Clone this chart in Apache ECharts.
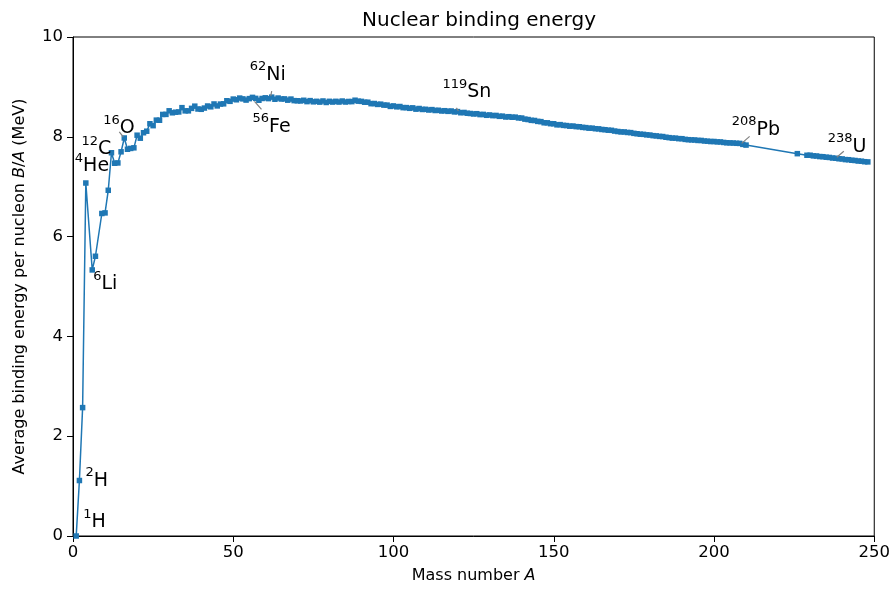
<!DOCTYPE html>
<html>
<head>
<meta charset="utf-8">
<script src="https://cdn.jsdelivr.net/npm/echarts@6/dist/echarts.min.js"></script>
<style>
html, body { margin: 0; padding: 0; background: #fff; }
#chart { width: 893px; height: 590px; }
</style>
</head>
<body>
<div id="chart"></div>
<script>
// mass number A of the plotted nuclides
var massNumber = [
    1, 2, 3, 4, 6, 7, 9, 10,
    11, 12, 13, 14, 15, 16, 17, 18, 19, 20,
    21, 22, 23, 24, 25, 26, 27, 28, 29, 30,
    31, 32, 33, 34, 35, 36, 37, 38, 39, 40,
    41, 42, 43, 44, 45, 46, 47, 48, 49, 50,
    51, 52, 53, 54, 55, 56, 57, 58, 59, 60,
    61, 62, 63, 64, 65, 66, 67, 68, 69, 70,
    71, 72, 73, 74, 75, 76, 77, 78, 79, 80,
    81, 82, 83, 84, 85, 86, 87, 88, 89, 90,
    91, 92, 93, 94, 95, 96, 97, 98, 99, 100,
    101, 102, 103, 104, 105, 106, 107, 108, 109, 110,
    111, 112, 113, 114, 115, 116, 117, 118, 119, 120,
    121, 122, 123, 124, 125, 126, 127, 128, 129, 130,
    131, 132, 133, 134, 135, 136, 137, 138, 139, 140,
    141, 142, 143, 144, 145, 146, 147, 148, 149, 150,
    151, 152, 153, 154, 155, 156, 157, 158, 159, 160,
    161, 162, 163, 164, 165, 166, 167, 168, 169, 170,
    171, 172, 173, 174, 175, 176, 177, 178, 179, 180,
    181, 182, 183, 184, 185, 186, 187, 188, 189, 190,
    191, 192, 193, 194, 195, 196, 197, 198, 199, 200,
    201, 202, 203, 204, 205, 206, 207, 208, 209, 210,
    226,
    229, 230, 231, 232, 233, 234, 235, 236, 237, 238,
    239, 240, 241, 242, 243, 244, 245, 246, 247, 248
];

// average binding energy per nucleon B/A (MeV), same order as massNumber
var bindingEnergy = [
    0.000, 1.112, 2.573, 7.074, 5.332, 5.606, 6.463, 6.475,
    6.928, 7.680, 7.470, 7.476, 7.699, 7.976, 7.751, 7.767, 7.779, 8.032,
    7.972, 8.081, 8.112, 8.261, 8.223, 8.334, 8.332, 8.448, 8.449, 8.521,
    8.481, 8.493, 8.498, 8.584, 8.520, 8.520, 8.570, 8.614, 8.557, 8.551,
    8.576, 8.617, 8.601, 8.658, 8.619, 8.656, 8.661, 8.723, 8.711, 8.756,
    8.742, 8.776, 8.760, 8.736, 8.765, 8.790, 8.770, 8.732, 8.768, 8.781,
    8.765, 8.795, 8.752, 8.777, 8.757, 8.760, 8.734, 8.756, 8.725, 8.722,
    8.718, 8.732, 8.705, 8.725, 8.701, 8.711, 8.695, 8.718, 8.688, 8.711,
    8.696, 8.711, 8.696, 8.717, 8.697, 8.708, 8.705, 8.733, 8.714, 8.710,
    8.693, 8.693, 8.664, 8.667, 8.649, 8.654, 8.635, 8.635, 8.609, 8.619,
    8.601, 8.607, 8.584, 8.585, 8.571, 8.580, 8.554, 8.567, 8.548, 8.551,
    8.537, 8.545, 8.527, 8.532, 8.517, 8.523, 8.510, 8.517, 8.499, 8.505,
    8.482, 8.488, 8.472, 8.467, 8.458, 8.463, 8.445, 8.449, 8.431, 8.438,
    8.424, 8.428, 8.410, 8.414, 8.397, 8.403, 8.392, 8.394, 8.378, 8.376,
    8.354, 8.346, 8.330, 8.327, 8.309, 8.304, 8.281, 8.280, 8.263, 8.262,
    8.240, 8.244, 8.229, 8.225, 8.213, 8.215, 8.204, 8.202, 8.189, 8.184,
    8.173, 8.173, 8.162, 8.159, 8.147, 8.142, 8.132, 8.130, 8.115, 8.106,
    8.098, 8.097, 8.087, 8.084, 8.069, 8.061, 8.052, 8.049, 8.039, 8.035,
    8.023, 8.018, 8.008, 8.005, 7.991, 7.983, 7.974, 7.973, 7.963, 7.962,
    7.948, 7.942, 7.938, 7.936, 7.927, 7.927, 7.916, 7.912, 7.905, 7.906,
    7.898, 7.897, 7.887, 7.880, 7.878, 7.875, 7.870, 7.868, 7.848, 7.834,
    7.662,
    7.630, 7.631, 7.618, 7.615, 7.604, 7.601, 7.591, 7.586, 7.575, 7.570,
    7.560, 7.556, 7.543, 7.541, 7.530, 7.525, 7.515, 7.511, 7.501, 7.497
];

// labelled nuclides
var labelMass = [1, 2, 4, 6, 12, 16, 56, 62, 119, 208, 238];
var labelSymbol = ['H', 'H', 'He', 'Li', 'C', 'O', 'Fe', 'Ni', 'Sn', 'Pb', 'U'];

// text offset (bottom-left of the label, px from the point) and leader line
var labelLayout = {
    1:   {dx: 7,   dy: -4},
    2:   {dx: 6,   dy: 10},
    4:   {dx: -11, dy: -7},
    6:   {dx: 1,   dy: 24},
    12:  {dx: -30, dy: 6},
    16:  {dx: -21, dy: 0,  line: [-5, -6, -1, -1]},
    56:  {dx: 0,   dy: 39, line: [2, 4, 9, 12]},
    62:  {dx: -22, dy: -13, line: [0, -6, -1, -1]},
    119: {dx: -12, dy: -10, line: [2, -4, 4, -1]},
    208: {dx: -8,  dy: -4, line: [2, 0, 10, -7]},
    238: {dx: -8,  dy: -2, line: [1, -1, 8, -7]}
};

var FONT = 'DejaVu Sans';
var BLUE = '#1f77b4';

var points = massNumber.map(function (a, i) {
    return [a, bindingEnergy[i]];
});

var chart = echarts.init(document.getElementById('chart'));
var option = {
    animation: false,
    backgroundColor: '#fff',
    title: {
        text: 'Nuclear binding energy',
        left: 474,
        textAlign: 'center',
        top: 6,
        textStyle: {fontFamily: FONT, fontSize: 20, fontWeight: 'normal', color: '#000'}
    },
    grid: {
        left: 73,
        right: 18,
        top: 37,
        bottom: 54,
        show: true,
        borderColor: '#000',
        borderWidth: 1,
        backgroundColor: 'transparent'
    },
    xAxis: {
        type: 'value',
        min: 0,
        max: 250,
        interval: 50,
        name: 'Mass number {i|A}',
        nameLocation: 'middle',
        nameGap: 32,
        nameTextStyle: {
            fontFamily: FONT, fontSize: 16, color: '#000',
            rich: {i: {fontFamily: FONT, fontSize: 16, fontStyle: 'italic', color: '#000'}}
        },
        axisLine: {lineStyle: {color: '#000', width: 1}},
        axisTick: {show: true, length: 6, lineStyle: {color: '#000'}},
        axisLabel: {fontFamily: FONT, fontSize: 16.5, color: '#000', margin: 8},
        splitLine: {show: false}
    },
    yAxis: {
        type: 'value',
        min: 0,
        max: 10,
        interval: 2,
        name: 'Average binding energy per nucleon {i|B}/{i|A} (MeV)',
        nameLocation: 'middle',
        nameGap: 45,
        nameTextStyle: {
            fontFamily: FONT, fontSize: 16, color: '#000',
            rich: {i: {fontFamily: FONT, fontSize: 16, fontStyle: 'italic', color: '#000'}}
        },
        axisLine: {show: true, lineStyle: {color: '#000', width: 1}},
        axisTick: {show: true, length: 6, lineStyle: {color: '#000'}},
        axisLabel: {fontFamily: FONT, fontSize: 16.5, color: '#000', margin: 10},
        splitLine: {show: false}
    },
    series: [
        {
            type: 'line',
            data: points,
            symbol: 'rect',
            symbolSize: 5.5,
            showAllSymbol: true,
            itemStyle: {color: BLUE},
            lineStyle: {color: BLUE, width: 1.5}
        }
    ]
};
chart.setOption(option);

// annotations placed from the data points
var elements = [];
labelMass.forEach(function (a, k) {
    var idx = massNumber.indexOf(a);
    var p = chart.convertToPixel({gridIndex: 0}, [a, bindingEnergy[idx]]);
    var lay = labelLayout[a];
    if (lay.line) {
        elements.push({
            type: 'line',
            shape: {
                x1: p[0] + lay.line[0], y1: p[1] + lay.line[1],
                x2: p[0] + lay.line[2], y2: p[1] + lay.line[3]
            },
            style: {stroke: '#808080', lineWidth: 1.2},
            z: 10
        });
    }
    elements.push({
        type: 'text',
        x: p[0] + lay.dx,
        y: p[1] + lay.dy,
        z: 11,
        style: {
            text: '{s|' + a + '}{m|' + labelSymbol[k] + '}',
            align: 'left',
            verticalAlign: 'bottom',
            fill: '#000',
            rich: {
                s: {fontFamily: FONT, fontSize: 13, fill: '#000', verticalAlign: 'top', lineHeight: 24},
                m: {fontFamily: FONT, fontSize: 19, fill: '#000', verticalAlign: 'bottom', lineHeight: 24}
            }
        }
    });
});
chart.setOption({graphic: {elements: elements}});

window.onresize = chart.resize;
</script>
</body>
</html>
